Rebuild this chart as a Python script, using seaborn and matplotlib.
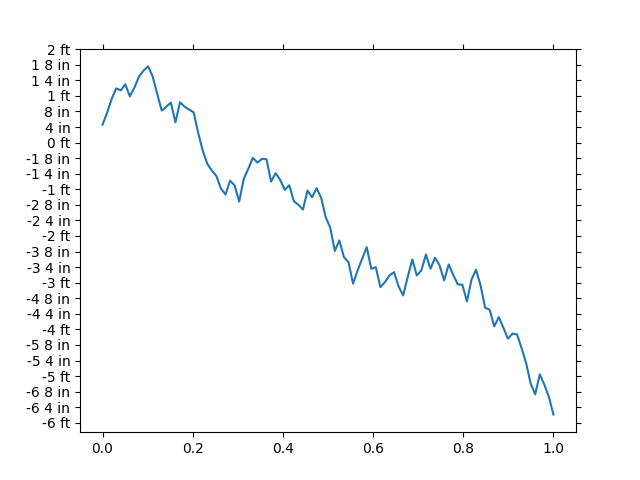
import numpy as np
import matplotlib
matplotlib.use('Agg')
import matplotlib.pyplot as plt
from matplotlib.ticker import MultipleLocator, FuncFormatter
import seaborn as sns

# values in inches
y_inches = [4.62, 7.62, 11.22, 13.94, 13.42, 14.96, 11.88, 14.12, 16.94, 18.48,
            19.58, 17.02, 12.5, 8.21, 9.24, 10.27, 5.21, 10.34, 9.24, 8.47,
            7.78, 2.49, -2.05, -5.47, -7.19, -8.6, -11.81, -13.35, -9.75, -11.04,
            -15.14, -9.32, -6.75, -3.93, -5.13, -4.18, -4.29, -10.01, -7.88, -9.57,
            -12.14, -10.96, -15.07, -15.99, -17.2, -12.32, -14.04, -11.73, -14.19, -19.17,
            -21.89, -27.85, -25.15, -29.44, -30.72, -36.27, -32.85, -29.85, -26.87, -32.42,
            -32.01, -37.14, -35.86, -34.14, -33.29, -36.96, -39.27, -34.57, -30.03, -34.14,
            -32.85, -28.75, -32.42, -29.59, -31.57, -35.42, -31.31, -34.01, -36.45, -36.52,
            -40.81, -35.24, -32.67, -36.7, -42.43, -42.94, -47.23, -44.84, -47.56, -50.39,
            -49.1, -49.28, -52.8, -56.65, -61.94, -64.68, -59.55, -62.19, -65.37, -69.89]
x_vals = np.linspace(0, 1, len(y_inches))


def feet_inches(v, pos):
    ft, inch = divmod(int(round(v)), 12)
    if inch == 0:
        return f"{ft} ft"
    if ft == 0:
        return f"{inch} in"
    return f"{ft} {inch} in"


fig, ax = plt.subplots(figsize=(6.4, 4.8), dpi=100)
fig.subplots_adjust(top=0.898, bottom=0.1)
sns.lineplot(x=x_vals, y=y_inches, ax=ax)

ax.yaxis.set_major_locator(MultipleLocator(4))
ax.yaxis.set_major_formatter(FuncFormatter(feet_inches))
ax.tick_params(top=True, right=True, labeltop=False, labelright=False)

plt.savefig('out.png')
